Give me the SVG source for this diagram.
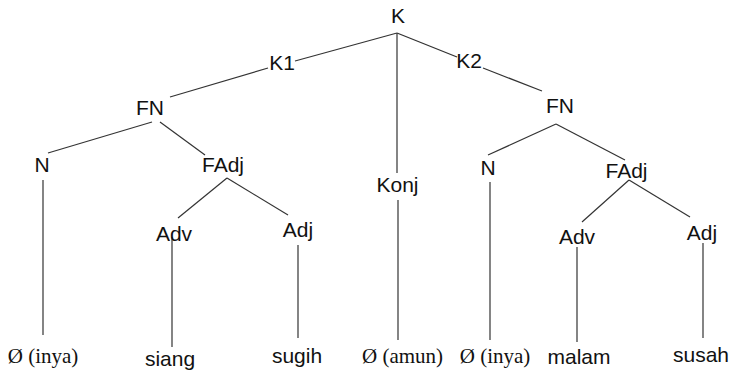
<svg xmlns="http://www.w3.org/2000/svg" width="731" height="371" viewBox="0 0 731 371">
<style>
.s{font-family:"Liberation Sans",Arial,sans-serif;font-size:21px;fill:#111;text-anchor:middle}
.r{font-family:"Liberation Serif","Times New Roman",serif;font-size:21px;fill:#111;text-anchor:middle}
.e{stroke:#333;stroke-width:1.2;fill:none}
</style>
<rect width="731" height="371" fill="#fff"/>
<g id="connectors">
<line class="e" x1="397" y1="33" x2="295" y2="61"/>
<line class="e" x1="268" y1="68" x2="170" y2="97"/>
<line class="e" x1="397" y1="33" x2="457" y2="57"/>
<line class="e" x1="483" y1="68" x2="542" y2="91"/>
<line class="e" x1="397" y1="33" x2="397" y2="173"/>
<line class="e" x1="152" y1="122" x2="48" y2="153"/>
<line class="e" x1="160" y1="122" x2="205" y2="155"/>
<line class="e" x1="43" y1="180" x2="43" y2="335"/>
<line class="e" x1="227" y1="178" x2="178" y2="218"/>
<line class="e" x1="227" y1="178" x2="288" y2="215"/>
<line class="e" x1="172" y1="237" x2="172" y2="347"/>
<line class="e" x1="298" y1="245" x2="298" y2="338"/>
<line class="e" x1="556" y1="124" x2="488" y2="155"/>
<line class="e" x1="556" y1="124" x2="625" y2="160"/>
<line class="e" x1="490" y1="182" x2="490" y2="340"/>
<line class="e" x1="398" y1="200" x2="398" y2="340"/>
<line class="e" x1="629" y1="180" x2="582" y2="222"/>
<line class="e" x1="629" y1="180" x2="690" y2="217"/>
<line class="e" x1="577" y1="247" x2="577" y2="342"/>
<line class="e" x1="703" y1="243" x2="703" y2="338"/>
</g>
<g id="n-K"><text class="s" x="398" y="23">K</text></g>
<g id="n-K1"><text class="s" x="282" y="70">K1</text></g>
<g id="n-K2"><text class="s" x="469" y="68">K2</text></g>
<g id="n-FN1"><text class="s" x="150" y="115">FN</text></g>
<g id="n-FN2"><text class="s" x="560" y="113">FN</text></g>
<g id="n-N1"><text class="s" x="42" y="172">N</text></g>
<g id="n-FAdj1"><text class="s" x="223" y="172">FAdj</text></g>
<g id="n-Konj"><text class="s" x="397.5" y="192">Konj</text></g>
<g id="n-N2"><text class="s" x="488" y="175">N</text></g>
<g id="n-FAdj2"><text class="s" x="626.5" y="178">FAdj</text></g>
<g id="n-Adv1"><text class="s" x="174" y="241">Adv</text></g>
<g id="n-Adj1"><text class="s" x="298" y="237">Adj</text></g>
<g id="n-Adv2"><text class="s" x="577" y="244">Adv</text></g>
<g id="n-Adj2"><text class="s" x="702" y="240">Adj</text></g>
<g id="n-inya1"><text class="r" x="43" y="363">Ø (inya)</text></g>
<g id="n-siang"><text class="s" x="170" y="366">siang</text></g>
<g id="n-sugih"><text class="s" x="297" y="363">sugih</text></g>
<g id="n-amun"><text class="r" x="402.5" y="363">Ø (amun)</text></g>
<g id="n-inya2"><text class="r" x="495" y="363">Ø (inya)</text></g>
<g id="n-malam"><text class="s" x="579" y="364">malam</text></g>
<g id="n-susah"><text class="s" x="701" y="362">susah</text></g>
</svg>
